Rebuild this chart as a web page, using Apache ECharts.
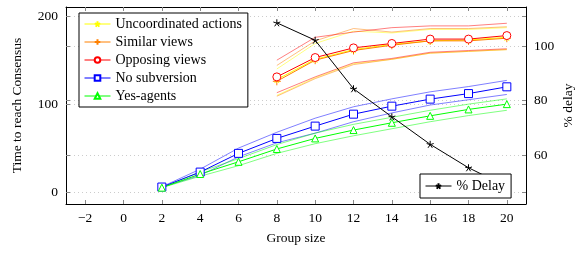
<!DOCTYPE html>
<html>
<head>
<meta charset="utf-8">
<script src="https://cdn.jsdelivr.net/npm/echarts@6/dist/echarts.min.js"></script>
<style>
  html, body { margin: 0; padding: 0; background: #fff; }
  #chart { width: 575px; height: 253px; }
</style>
</head>
<body>
<div id="chart"></div>
<script>
// group sizes
var sizesBig = [8, 10, 12, 14, 16, 18, 20];
var sizesAll = [2, 4, 6, 8, 10, 12, 14, 16, 18, 20];

// time to reach consensus (left axis)
var uncoordinated = [128, 151, 162, 168, 172, 173, 176];
var uncoordHi = [140, 169, 183, 181, 185, 185, 187];
var uncoordLo = [110, 130, 146, 151, 158, 160, 162];

var similar = [126, 150, 161, 167, 172, 172, 175];
var similarHi = [144, 172, 186, 182, 186, 186, 188];
var similarLo = [109, 129, 145, 151, 158, 160, 162];

var opposing = [131, 153, 164, 169, 174, 174, 178];
var opposingHi = [150, 176, 182, 187, 189, 189, 192];
var opposingLo = [113, 131, 147, 152, 159, 161, 163];

var noSubversion = [5.7, 22.7, 44, 61, 75, 88.6, 97.7, 105.7, 112, 119.7];
var noSubHi = [6, 26, 50, 68, 84, 97, 106, 114, 120, 127];
var noSubLo = [5.5, 19, 40, 56, 67, 80, 90, 99, 105, 111];

var yesAgents = [5, 20.5, 34.4, 49, 61, 70.5, 78.8, 86.7, 94, 100];
var yesHi = [5, 23, 38, 54, 67, 77, 85, 93, 100, 106];
var yesLo = [5, 18, 30, 44, 55, 64, 72, 80, 87, 93];

// % delay (right axis)
var delay = [108.5, 102.1, 84.3, 74.0, 63.9, 55.3, 48.4];

var xTicks = [-2, 0, 2, 4, 6, 8, 10, 12, 14, 16, 18, 20];
var leftTicks = [0, 100, 200];
var rightTicks = [60, 80, 100];

var FONT = "'Liberation Serif', 'DejaVu Serif', serif";

function pairs(xs, ys) {
    return xs.map(function (x, i) { return [x, ys[i]]; });
}

var star = 'path://M0,0L0,-1M0,0L-0.951,-0.309M0,0L-0.588,0.809M0,0L0.588,0.809M0,0L0.951,-0.309';
var plus = 'path://M0,-1L0,1M-1,0L1,0';

function band(name, xs, ys, color) {
    return {
        name: name, type: 'line', data: pairs(xs, ys), showSymbol: false, symbol: 'none',
        lineStyle: { color: color, width: 1, opacity: 0.5 }, silent: true, z: 1
    };
}

function main(name, xs, ys, color, symbol, size, fill) {
    return {
        name: name, type: 'line', data: pairs(xs, ys),
        symbol: symbol, symbolSize: size,
        lineStyle: { color: color, width: 1 },
        itemStyle: { color: fill || color, borderColor: color, borderWidth: 1 },
        z: 3
    };
}

var legendText = { fontFamily: FONT, fontSize: 14, lineHeight: 14, color: '#000' };

var myChart = echarts.init(document.getElementById('chart'));
myChart.setOption({
    animation: false,
    textStyle: { fontFamily: FONT, color: '#000' },
    grid: { left: 66, right: 49, top: 7, bottom: 49, containLabel: false, outerBoundsMode: 'none' },
    legend: [
        {
            data: ['Uncoordinated actions', 'Similar views', 'Opposing views', 'No subversion', 'Yes-agents'],
            orient: 'vertical', left: 79, top: 13,
            padding: [4, 6, 4, 5], itemGap: 4, itemWidth: 26, itemHeight: 7,
            backgroundColor: '#fff', borderColor: '#000', borderWidth: 1, borderRadius: 0,
            lineStyle: { width: 1 },
            textStyle: legendText
        },
        {
            data: ['% Delay'],
            orient: 'vertical', left: 420, top: 174,
            padding: [5, 6, 5, 5], itemWidth: 26, itemHeight: 7,
            backgroundColor: '#fff', borderColor: '#000', borderWidth: 1, borderRadius: 0,
            lineStyle: { width: 1 },
            textStyle: legendText
        }
    ],
    xAxis: [
        {
            type: 'value', min: -3, max: 21, position: 'bottom',
            name: 'Group size', nameLocation: 'middle', nameGap: 27, nameMoveOverlap: false,
            nameTextStyle: { fontFamily: FONT, fontSize: 13.5, color: '#000' },
            axisLine: { show: true, onZero: false, lineStyle: { color: '#000', width: 1 } },
            axisTick: { show: true, inside: true, length: 4, customValues: xTicks, lineStyle: { color: '#888' } },
            axisLabel: { customValues: xTicks, color: '#000', fontSize: 13.5, fontFamily: FONT, margin: 7,
                formatter: function (v) { return v < 0 ? '\u2212' + (-v) : v; } },
            splitLine: { show: false }
        },
        {
            type: 'value', min: -3, max: 21, position: 'top',
            axisLine: { show: true, onZero: false, lineStyle: { color: '#000', width: 1 } },
            axisTick: { show: true, inside: true, length: 4, customValues: xTicks, lineStyle: { color: '#888' } },
            axisLabel: { show: false },
            splitLine: { show: false }
        }
    ],
    yAxis: [
        {
            type: 'value', min: -13.6, max: 210.5, position: 'left',
            name: 'Time to reach Consensus', nameLocation: 'middle', nameGap: 42, nameMoveOverlap: false,
            nameTextStyle: { fontFamily: FONT, fontSize: 13.5, color: '#000' },
            axisLine: { show: true, onZero: false, lineStyle: { color: '#000', width: 1 } },
            axisTick: { show: true, inside: true, length: 4, customValues: leftTicks, lineStyle: { color: '#888' } },
            axisLabel: { customValues: leftTicks, color: '#000', fontSize: 13.5, fontFamily: FONT, margin: 8 },
            splitLine: { show: true, lineStyle: { color: '#ccc', type: [1, 3], width: 1 } }
        },
        {
            type: 'value', min: 42, max: 114.3, position: 'right',
            name: '% delay', nameLocation: 'middle', nameGap: 35, nameRotate: 90, nameMoveOverlap: false,
            nameTextStyle: { fontFamily: FONT, fontSize: 13.5, color: '#000' },
            axisLine: { show: true, onZero: false, lineStyle: { color: '#000', width: 1 } },
            axisTick: { show: true, inside: true, length: 4, customValues: rightTicks, lineStyle: { color: '#888' } },
            axisLabel: { customValues: rightTicks, color: '#000', fontSize: 13.5, fontFamily: FONT, margin: 8 },
            splitLine: { show: true, lineStyle: { color: '#ccc', type: [1, 3], width: 1 } }
        },
        {
            type: 'value', min: -13.6, max: 210.5, position: 'right',
            axisLine: { show: false, onZero: false },
            axisTick: { show: true, inside: true, length: 4, customValues: leftTicks, lineStyle: { color: '#888' } },
            axisLabel: { show: false },
            splitLine: { show: false }
        },
        {
            type: 'value', min: 42, max: 114.3, position: 'left',
            axisLine: { show: false, onZero: false },
            axisTick: { show: true, inside: true, length: 4, customValues: rightTicks, lineStyle: { color: '#888' } },
            axisLabel: { show: false },
            splitLine: { show: false }
        }
    ],
    series: [
        band('uh', sizesBig, uncoordHi, '#ffff00'),
        band('ul', sizesBig, uncoordLo, '#ffff00'),
        band('sh', sizesBig, similarHi, '#ff8000'),
        band('sl', sizesBig, similarLo, '#ff8000'),
        band('oh', sizesBig, opposingHi, '#ff0000'),
        band('ol', sizesBig, opposingLo, '#ff0000'),
        band('nh', sizesAll, noSubHi, '#0000ff'),
        band('nl', sizesAll, noSubLo, '#0000ff'),
        band('yh', sizesAll, yesHi, '#00ff00'),
        band('yl', sizesAll, yesLo, '#00ff00'),
        main('Uncoordinated actions', sizesBig, uncoordinated, '#ffff00', star, 7),
        main('Similar views', sizesBig, similar, '#ff8000', plus, 8),
        main('Opposing views', sizesBig, opposing, '#ff0000', 'circle', 8, '#fff'),
        main('No subversion', sizesAll, noSubversion, '#0000ff', 'rect', 8, '#fff'),
        main('Yes-agents', sizesAll, yesAgents, '#00ff00', 'triangle', 7, '#fff'),
        {
            name: '% Delay', type: 'line', yAxisIndex: 1, data: pairs(sizesBig, delay),
            symbol: star, symbolSize: 7,
            lineStyle: { color: '#000', width: 1 },
            itemStyle: { color: '#000', borderColor: '#000', borderWidth: 1 },
            z: 3
        }
    ]
});
window.addEventListener('resize', function () {
    myChart.resize();
});
</script>
</body>
</html>
